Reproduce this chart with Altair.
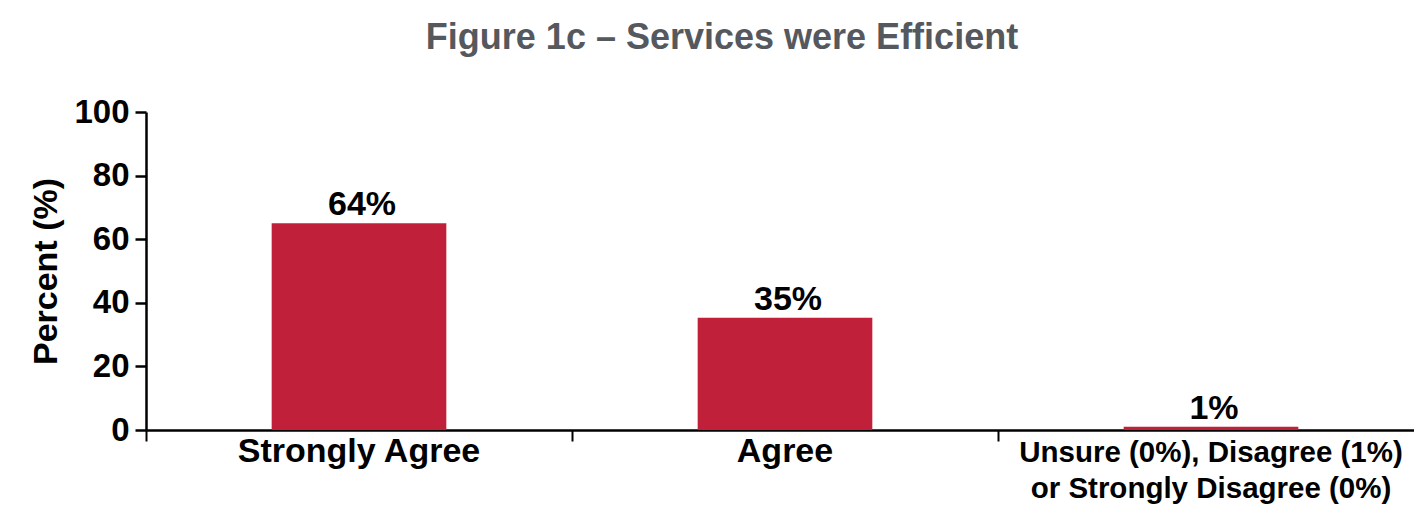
import altair as alt
import pandas as pd

categories = ["Strongly Agree", "Agree", "Unsure (0%), Disagree (1%)\nor Strongly Disagree (0%)"]
values = [65, 35.3, 1]
value_labels = ["64%", "35%", "1%"]

df = pd.DataFrame({"category": categories, "value": values, "label": value_labels})

FONT = "Liberation Sans"
RED = "#C1203A"

x_scale = alt.Scale(domain=categories, range=[0, 1278], paddingInner=0, paddingOuter=0)

x_enc = alt.X(
    "category:N",
    sort=categories,
    scale=x_scale,
    axis=alt.Axis(
        title=None,
        labels=False,
        tickBand="extent",
        tickSize=11,
        tickWidth=2,
        tickColor="black",
        domainColor="black",
        domainWidth=2.5,
    ),
)

y_enc = alt.Y(
    "value:Q",
    scale=alt.Scale(domain=[0, 100], nice=False),
    axis=alt.Axis(
        title="Percent (%)",
        values=[0, 20, 40, 60, 80, 100],
        grid=False,
        labelFont=FONT,
        labelFontSize=33,
        labelFontWeight="bold",
        labelColor="black",
        labelPadding=6,
        tickSize=11,
        tickWidth=2.5,
        tickColor="black",
        domainColor="black",
        domainWidth=2.5,
        titleFont=FONT,
        titleFontSize=34,
        titleFontWeight="bold",
        titleColor="black",
        titlePadding=10,
    ),
)

base = alt.Chart(df)

bars = base.mark_bar(color=RED, width=alt.RelativeBandSize(0.41)).encode(x=x_enc, y=y_enc)

texts = base.mark_text(
    font=FONT, fontSize=34, fontWeight="bold", color="black", baseline="alphabetic", dy=-8, dx=3
).encode(x=alt.X("category:N", sort=categories, scale=x_scale), y="value:Q", text="label:N")

xlabels_big = base.transform_filter(
    alt.FieldOneOfPredicate(field="category", oneOf=categories[:2])
).mark_text(
    font=FONT, fontSize=34, fontWeight="bold", color="black", baseline="top", lineBreak="\n"
).encode(x=alt.X("category:N", sort=categories, scale=x_scale), y=alt.value(323), text="category:N")

xlabels_small = base.transform_filter(
    alt.FieldOneOfPredicate(field="category", oneOf=categories[2:])
).mark_text(
    font=FONT, fontSize=29.5, fontWeight="bold", color="black", baseline="top", lineBreak="\n", lineHeight=36
).encode(x=alt.X("category:N", sort=categories, scale=x_scale), y=alt.value(327), text="category:N")

chart = (
    alt.layer(bars, texts, xlabels_big, xlabels_small)
    .properties(
        width=1266,
        height=318,
        autosize=alt.AutoSizeParams(type="none"),
        padding={"left": 146, "top": 112, "right": 2, "bottom": 75},
        title=alt.TitleParams(
            "Figure 1c – Services were Efficient",
            font=FONT,
            fontSize=36,
            fontWeight="bold",
            color="#55585D",
            anchor="middle",
            dx=-57,
            offset=39,
        ),
    )
    .configure_view(stroke=None)
)

chart.save("out.html", embed_options={"renderer": "svg", "actions": False})
